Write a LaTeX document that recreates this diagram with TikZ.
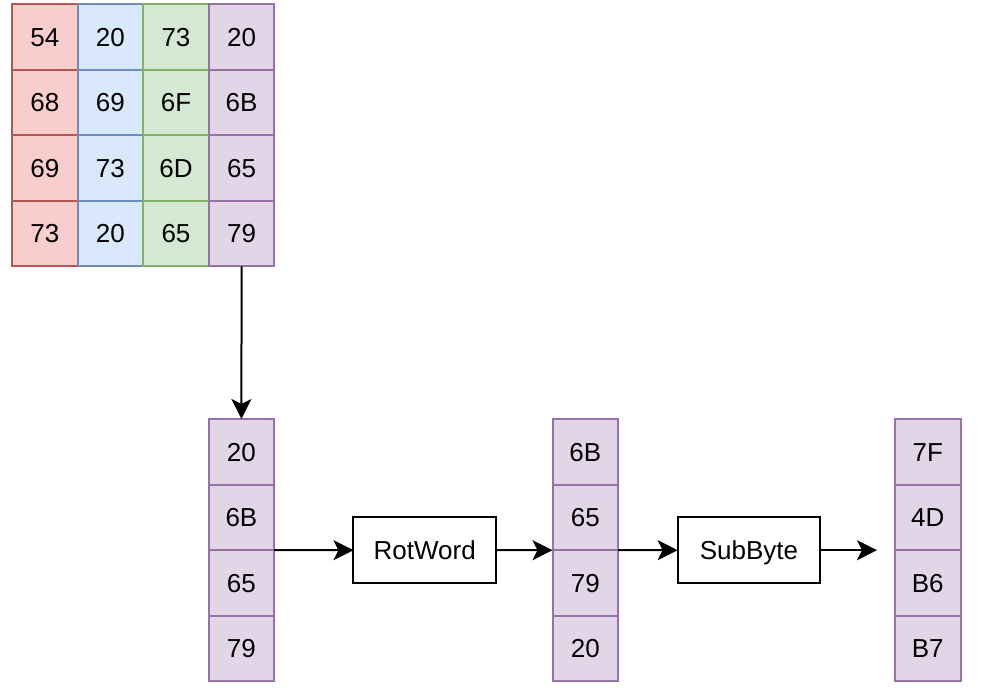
\documentclass[tikz,border=0pt]{standalone}
\usepackage{fontspec}
\setmainfont{Liberation Sans}
\usetikzlibrary{arrows.meta}
\definecolor{rfill}{HTML}{F8CECC}\definecolor{rline}{HTML}{B85450}
\definecolor{bfill}{HTML}{DAE8FC}\definecolor{bline}{HTML}{6C8EBF}
\definecolor{gfill}{HTML}{D5E8D4}\definecolor{gline}{HTML}{82B366}
\definecolor{pfill}{HTML}{E1D5E7}\definecolor{pline}{HTML}{9673A6}
\tikzset{
  txt/.style={font=\fontsize{26}{30}\selectfont, text height=18.7pt, text depth=0pt},
  cell/.style={draw, line width=2pt, minimum width=65.6pt, minimum height=65.6pt, inner sep=0pt, outer sep=0pt, txt},
  redcell/.style={cell, fill=rfill, draw=rline},
  bluecell/.style={cell, fill=bfill, draw=bline},
  greencell/.style={cell, fill=gfill, draw=gline},
  purplecell/.style={cell, fill=pfill, draw=pline},
  opbox/.style={draw=black, line width=2pt, minimum width=142.5pt, minimum height=65.6pt, inner sep=0pt, outer sep=0pt, txt},
  conn/.style={line width=2pt, -{Stealth[length=20pt,width=20pt,inset=5pt]}}
}
\begin{document}
\begin{tikzpicture}[x=1pt,y=-1pt]
\useasboundingbox (0,0) rectangle (989,697);
% grid
\foreach \t [count=\i] in {54,68,69,73} \node[redcell] (g\i a) at (44.8,{4+32.8+65.6*(\i-1)}) {\t};
\foreach \t [count=\i] in {20,69,73,20} \node[bluecell] (g\i b) at (110.4,{4+32.8+65.6*(\i-1)}) {\t};
\foreach \t [count=\i] in {73,6F,6D,65} \node[greencell] (g\i c) at (176,{4+32.8+65.6*(\i-1)}) {\t};
\foreach \t [count=\i] in {20,6B,65,79} \node[purplecell] (g\i d) at (241.6,{4+32.8+65.6*(\i-1)}) {\t};
% word columns
\foreach \t [count=\i] in {20,6B,65,79} \node[purplecell] (a\i) at (241.4,{419+32.8+65.6*(\i-1)}) {\t};
\foreach \t [count=\i] in {6B,65,79,20} \node[purplecell] (b\i) at (585.3,{419+32.8+65.6*(\i-1)}) {\t};
\foreach \t [count=\i] in {7F,4D,B6,B7} \node[purplecell] (c\i) at (927.8,{419+32.8+65.6*(\i-1)}) {\t};
% operations
\node[opbox] (rot) at (424.7,550.2) {RotWord};
\node[opbox] (sub) at (748.9,550.2) {SubByte};
\coordinate (end) at (877,550.2);
% connectors
\draw[conn] (g4d.south) -- (a1.north);
\draw[conn] (a2.south east) -- (rot.west);
\draw[conn] (rot.east) -- (b2.south west);
\draw[conn] (b2.south east) -- (sub.west);
\draw[conn] (sub.east) -- (end);
\end{tikzpicture}
\end{document}
